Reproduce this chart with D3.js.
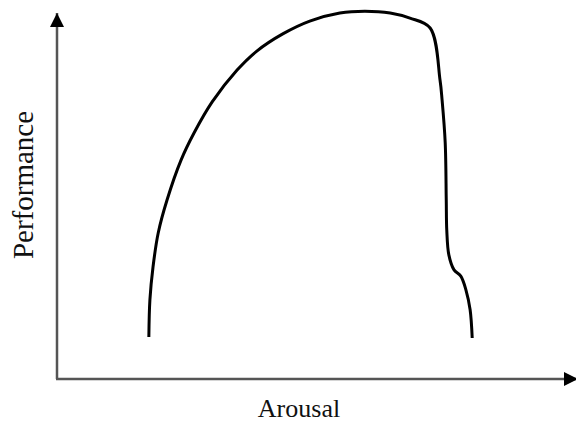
<!DOCTYPE html>
<html>
<head>
<meta charset="utf-8">
<script src="https://cdn.jsdelivr.net/npm/d3@7"></script>
<style>
  body { margin: 0; background: #fff; }
  text { font-family: "Liberation Serif", "Times New Roman", serif; fill: #111; }
</style>
</head>
<body>
<svg id="chart" width="576" height="426"></svg>
<script>
// arousal (x) vs performance (y), both on a 0-100 scale
const arousal = [17.7, 17.9, 18.5, 19.5, 21.2, 23.9, 26.4, 29.9, 34.7, 38.5, 43.5, 48.7, 54.5, 59.3, 64.2, 68.0, 71.9, 73.8, 74.2, 74.8, 75.0, 75.1, 75.5, 76.5, 77.8, 78.8, 79.6, 80.0];
const performance = [11.5, 21.6, 30.6, 39.9, 48.9, 59.8, 67.2, 75.7, 84.4, 89.6, 94.3, 97.8, 100.0, 100.5, 100.0, 98.6, 95.9, 81.7, 76.2, 64.5, 48.9, 40.7, 33.9, 29.8, 28.1, 24.3, 18.9, 11.2];
const xTitle = "Arousal";
const yTitle = "Performance";

const width = 576, height = 426;
const margin = {left: 57, right: 0, top: 13, bottom: 47};

const svg = d3.select("#chart");

const x = d3.scaleLinear().domain([0, 100]).range([margin.left, width - margin.right]);
const y = d3.scaleLinear().domain([0, 100]).range([height - margin.bottom, margin.top]);

// arrowheads
const defs = svg.append("defs");
defs.append("marker")
    .attr("id", "arrow")
    .attr("viewBox", "0 0 10 10")
    .attr("refX", 10).attr("refY", 5)
    .attr("markerWidth", 14).attr("markerHeight", 14)
    .attr("markerUnits", "userSpaceOnUse")
    .attr("orient", "auto")
  .append("path")
    .attr("d", "M0,0L10,5L0,10Z")
    .attr("fill", "#000");

const axes = svg.append("g")
    .attr("stroke", "#555")
    .attr("stroke-width", 2.5)
    .attr("fill", "none");

axes.append("line")
    .attr("x1", x(0)).attr("y1", y(0))
    .attr("x2", x(0)).attr("y2", y(100))
    .attr("marker-end", "url(#arrow)");

axes.append("line")
    .attr("x1", x(0) - 1).attr("y1", y(0))
    .attr("x2", x(100) + 2).attr("y2", y(0))
    .attr("marker-end", "url(#arrow)");

const line = d3.line()
    .x((d, i) => x(arousal[i]))
    .y(d => y(d))
    .curve(d3.curveCatmullRom.alpha(0.5));

svg.append("path")
    .datum(performance)
    .attr("fill", "none")
    .attr("stroke", "#000")
    .attr("stroke-width", 3)
    .attr("stroke-linejoin", "round")
    .attr("d", line);

svg.append("text")
    .attr("x", 299)
    .attr("y", 417)
    .attr("text-anchor", "middle")
    .attr("font-size", 26)
    .text(xTitle);

svg.append("text")
    .attr("transform", "translate(33,185) rotate(-90)")
    .attr("text-anchor", "middle")
    .attr("font-size", 29)
    .text(yTitle);
</script>
</body>
</html>
